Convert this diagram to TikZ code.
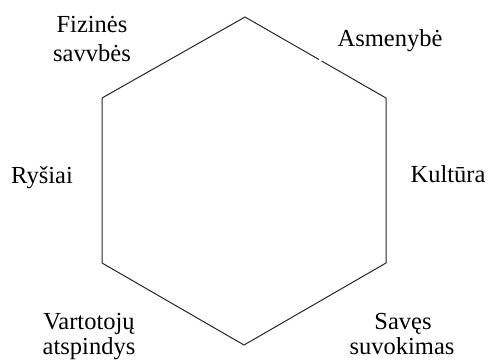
\documentclass[tikz,border=0pt]{standalone}
\usepackage{fontspec}
\setmainfont{Liberation Serif}
\usetikzlibrary{calc}
\begin{document}
\begin{tikzpicture}[x=1pt,y=-1pt,
  lab/.style={anchor=base, inner sep=0pt, font=\fontsize{24.5}{29}\selectfont},
  edge/.style={line width=1pt, draw=black!85, line join=miter}]
\useasboundingbox (0,0) rectangle (489,360);
\coordinate (t) at (245,17);
\coordinate (ur) at (386,98);
\coordinate (lr) at (386,263);
\coordinate (b) at (244,345);
\coordinate (ll) at (102,263);
\coordinate (ul) at (102,98);
\coordinate (g1) at ($(t)!0.525!(ur)$);
\coordinate (g2) at ($(t)!0.543!(ur)$);
\draw[edge] (g2) -- (ur) -- (lr) -- (b) -- (ll) -- (ul) -- (t) -- (g1);
\node[lab] (fiz1) at (92,32) {Fizinės};
\node[lab] (fiz2) at (92,61) {savvbės};
\node[lab] (asm) at (390,46) {Asmenybė};
\node[lab] (rys) at (42,183) {Ryšiai};
\node[lab] (kul) at (448,182) {Kultūra};
\node[lab] (var1) at (89,329) {Vartotojų};
\node[lab] (var2) at (89,354) {atspindys};
\node[lab] (sav1) at (403,329) {Savęs};
\node[lab] (sav2) at (402,354) {suvokimas};
\end{tikzpicture}
\end{document}
